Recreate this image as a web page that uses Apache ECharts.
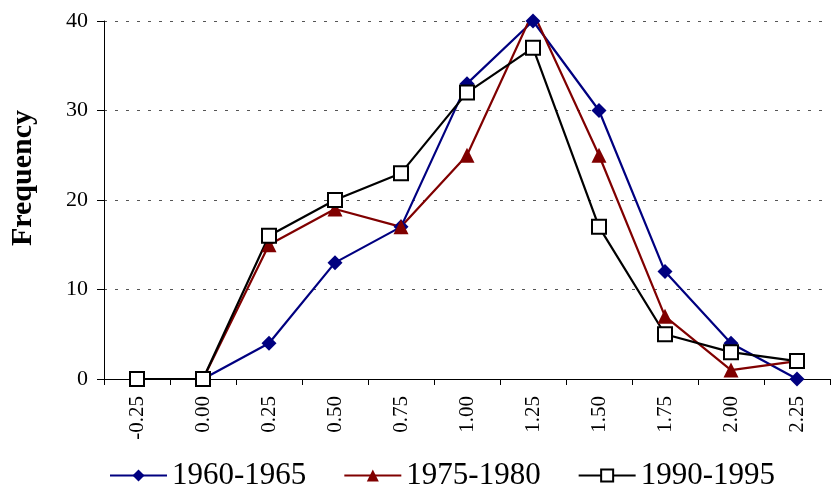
<!DOCTYPE html>
<html>
<head>
<meta charset="utf-8">
<script src="https://cdn.jsdelivr.net/npm/echarts@6/dist/echarts.min.js"></script>
<style>
  html, body { margin: 0; padding: 0; background: #fff; }
  #chart { width: 831px; height: 491px; }
</style>
</head>
<body>
<div id="chart"></div>
<script>
// categories on the x axis
var categories = ['-0.25', '0.00', '0.25', '0.50', '0.75', '1.00', '1.25', '1.50', '1.75', '2.00', '2.25'];

// frequency per period
var s1960 = [0, 0, 4, 13, 17, 33, 40, 30, 12, 4, 0];
var s1975 = [0, 0, 15, 19, 17, 25, 41, 25, 7, 1, 2];
var s1990 = [0, 0, 16, 20, 23, 32, 37, 17, 5, 3, 2];

var font = '"Liberation Serif", "Times New Roman", serif';

var myChart = echarts.init(document.getElementById('chart'));

var options = {
    animation: false,
    backgroundColor: '#fff',
    grid: { left: 104, right: 1, top: 21, bottom: 112 },
    legend: {
        left: 104,
        top: 455,
        itemWidth: 57,
        itemHeight: 15,
        itemGap: 37,
        textStyle: { fontFamily: font, fontSize: 31, color: '#000' },
        data: ['1960-1965', '1975-1980', '1990-1995']
    },
    xAxis: {
        type: 'category',
        data: categories,
        boundaryGap: true,
        axisLine: { lineStyle: { color: '#000', width: 1 } },
        axisTick: { show: true, length: 6, lineStyle: { color: '#000' } },
        axisLabel: {
            rotate: 90,
            margin: 17,
            fontFamily: font,
            fontSize: 21,
            color: '#000'
        },
        splitLine: { show: false }
    },
    yAxis: {
        type: 'value',
        min: 0,
        max: 40,
        interval: 10,
        name: 'Frequency',
        nameLocation: 'middle',
        nameGap: 66,
        nameRotate: 90,
        nameTextStyle: {
            fontFamily: font,
            fontSize: 30,
            fontWeight: 'bold',
            color: '#000',
            padding: [0, 0, 0, 44]
        },
        axisLine: { show: true, lineStyle: { color: '#000', width: 1 } },
        axisTick: { show: true, length: 7, lineStyle: { color: '#000' } },
        axisLabel: { fontFamily: font, fontSize: 22, color: '#000', margin: 16 },
        splitLine: {
            show: true,
            lineStyle: { color: '#555', type: [3, 8], width: 1 }
        }
    },
    series: [
        {
            name: '1960-1965',
            type: 'line',
            data: s1960,
            symbol: 'diamond',
            symbolSize: 15,
            lineStyle: { color: '#000080', width: 2.2 },
            itemStyle: { color: '#000080' }
        },
        {
            name: '1975-1980',
            type: 'line',
            data: s1975,
            symbol: 'triangle',
            symbolSize: 15,
            lineStyle: { color: '#800000', width: 2.2 },
            itemStyle: { color: '#800000' }
        },
        {
            name: '1990-1995',
            type: 'line',
            data: s1990,
            symbol: 'rect',
            symbolSize: 14,
            lineStyle: { color: '#000', width: 2.2 },
            itemStyle: { color: '#fff', borderColor: '#000', borderWidth: 2 }
        }
    ]
};

myChart.setOption(options);
</script>
</body>
</html>
